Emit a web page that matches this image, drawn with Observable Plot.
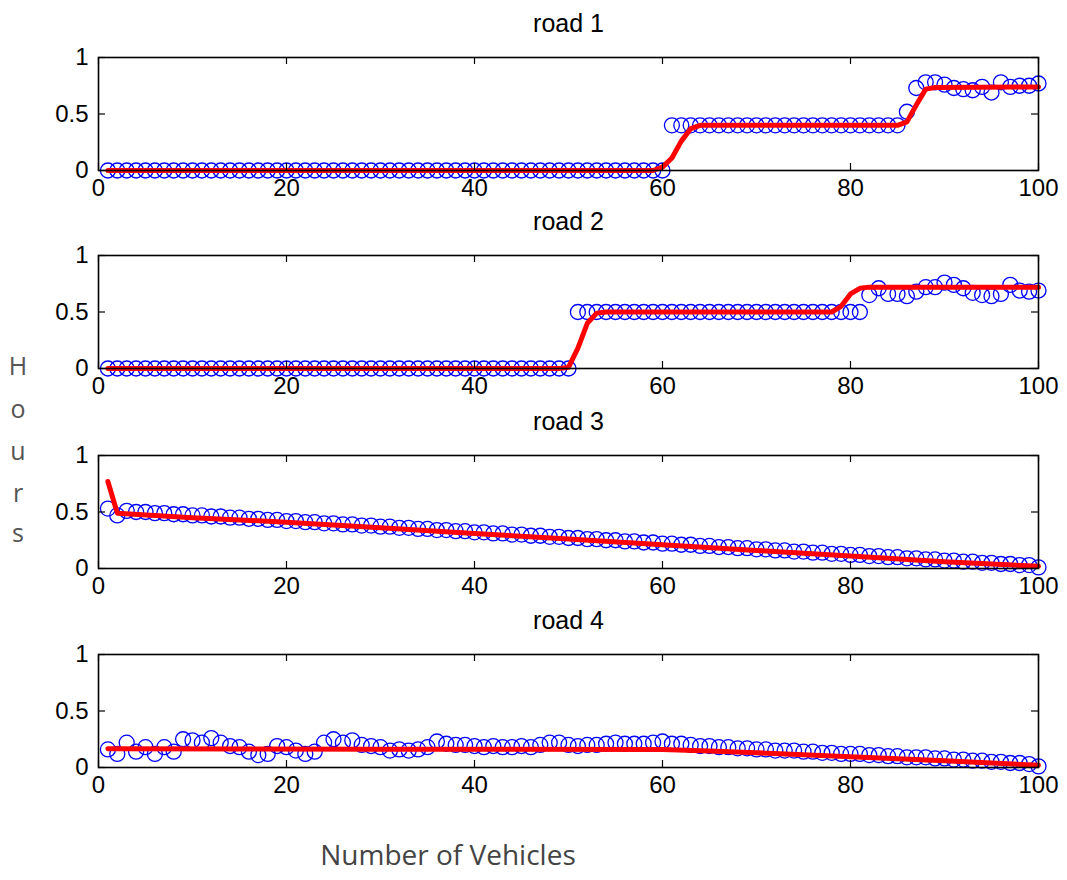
<!DOCTYPE html>
<html>
<head>
<meta charset="utf-8">
<script src="https://cdn.jsdelivr.net/npm/d3@7"></script>
<script src="https://cdn.jsdelivr.net/npm/@observablehq/plot@0.6"></script>
<style>
  html, body { margin: 0; padding: 0; background: #fff; }
  #chart { position: relative; width: 1067px; height: 880px; background: #fff; overflow: hidden; }
  .panel { position: absolute; left: 0; }
  .ylab { position: absolute; left: 4px; width: 28px; text-align: center; font-family: "Open Sans", sans-serif; font-size: 25px; color: #555; line-height: 1; }
  #xlabel { position: absolute; left: 198px; width: 500px; top: 838px; text-align: center; font-family: "Open Sans", sans-serif; font-size: 28px; color: #444; line-height: 1.2; }
</style>
</head>
<body>
<div id="chart"></div>
<script>
// ---- data ----
const titles = ["road 1", "road 2", "road 3", "road 4"];
const xTicks = [0, 20, 40, 60, 80, 100];
const yTicks = [0, 0.5, 1];
const vehicles = d3.range(1, 101);

const road1 = [
  0,0,0,0,0,0,0,0,0,0,
  0,0,0,0,0,0,0,0,0,0,
  0,0,0,0,0,0,0,0,0,0,
  0,0,0,0,0,0,0,0,0,0,
  0,0,0,0,0,0,0,0,0,0,
  0,0,0,0,0,0,0,0,0,0,
  0.40,0.40,0.40,0.40,0.40,0.40,0.40,0.40,0.40,0.40,
  0.40,0.40,0.40,0.40,0.40,0.40,0.40,0.40,0.40,0.40,
  0.40,0.40,0.40,0.40,0.40,0.52,0.73,0.78,0.78,0.76,
  0.73,0.72,0.71,0.74,0.69,0.78,0.74,0.75,0.75,0.77
];
const road2 = [
  0,0,0,0,0,0,0,0,0,0,
  0,0,0,0,0,0,0,0,0,0,
  0,0,0,0,0,0,0,0,0,0,
  0,0,0,0,0,0,0,0,0,0,
  0,0,0,0,0,0,0,0,0,0,
  0.50,0.50,0.50,0.50,0.50,0.50,0.50,0.50,0.50,0.50,
  0.50,0.50,0.50,0.50,0.50,0.50,0.50,0.50,0.50,0.50,
  0.50,0.50,0.50,0.50,0.50,0.50,0.50,0.50,0.50,0.50,
  0.50,0.65,0.71,0.66,0.66,0.64,0.68,0.72,0.72,0.76,
  0.74,0.71,0.67,0.65,0.64,0.66,0.74,0.69,0.68,0.69
];
const road3 = [
  0.53,0.47,0.51,0.50,0.50,0.49,0.49,0.48,0.48,0.47,
  0.47,0.46,0.46,0.45,0.45,0.44,0.44,0.43,0.43,0.42,
  0.42,0.41,0.41,0.40,0.40,0.39,0.39,0.38,0.38,0.37,
  0.37,0.36,0.36,0.35,0.35,0.34,0.34,0.33,0.33,0.32,
  0.32,0.31,0.31,0.30,0.30,0.29,0.29,0.28,0.28,0.27,
  0.27,0.26,0.26,0.25,0.25,0.24,0.24,0.23,0.23,0.22,
  0.22,0.21,0.21,0.20,0.20,0.19,0.19,0.18,0.18,0.17,
  0.17,0.16,0.16,0.15,0.15,0.14,0.14,0.13,0.13,0.12,
  0.12,0.11,0.11,0.10,0.10,0.09,0.09,0.08,0.08,0.07,
  0.07,0.06,0.06,0.05,0.05,0.04,0.04,0.03,0.03,0.01
];
const road4 = [
  0.16,0.12,0.22,0.14,0.18,0.12,0.18,0.14,0.25,0.24,
  0.22,0.26,0.22,0.19,0.18,0.14,0.11,0.12,0.19,0.18,
  0.15,0.12,0.14,0.22,0.25,0.22,0.24,0.20,0.19,0.18,
  0.15,0.16,0.15,0.16,0.18,0.23,0.21,0.20,0.20,0.19,
  0.18,0.19,0.18,0.18,0.19,0.18,0.20,0.22,0.22,0.20,
  0.19,0.20,0.20,0.21,0.22,0.21,0.21,0.21,0.22,0.23,
  0.21,0.21,0.20,0.19,0.19,0.18,0.18,0.17,0.17,0.16,
  0.16,0.15,0.15,0.15,0.14,0.14,0.13,0.13,0.12,0.12,
  0.12,0.11,0.11,0.10,0.10,0.09,0.09,0.09,0.08,0.08,
  0.07,0.07,0.06,0.06,0.05,0.05,0.04,0.04,0.03,0.01
];

// fitted (red) curves: x and y key points
const fit1X = [1, 59, 60, 61, 62, 63, 64, 85, 86, 87, 88, 89, 100];
const fit1Y = [0, 0, 0.03, 0.11, 0.26, 0.37, 0.40, 0.40, 0.43, 0.58, 0.72, 0.735, 0.74];
const fit2X = [1, 49, 50, 51, 52, 53, 54, 78, 79, 80, 81, 82, 100];
const fit2Y = [0, 0, 0.01, 0.18, 0.40, 0.49, 0.50, 0.50, 0.55, 0.66, 0.71, 0.72, 0.72];
const fit3X = [1, 2, 10, 20, 30, 40, 50, 60, 70, 80, 90, 100];
const fit3Y = [0.77, 0.49, 0.45, 0.41, 0.36, 0.31, 0.26, 0.21, 0.16, 0.11, 0.06, 0.02];
const fit4X = [1, 30, 60, 65, 70, 80, 90, 100];
const fit4Y = [0.165, 0.162, 0.16, 0.145, 0.13, 0.095, 0.06, 0.02];

const series = [road1, road2, road3, road4];
const fitsX = [fit1X, fit2X, fit3X, fit4X];
const fitsY = [fit1Y, fit2Y, fit3Y, fit4Y];

// ---- layout ----
const W = 1067, H = 200;
const mL = 98, mR = 29, mT = 55, mB = 32;
const frameW = W - mL - mR, frameH = H - mT - mB;
const tickLen = 7;
const panelTops = [2, 200, 400, 599];

const chart = document.getElementById("chart");

titles.forEach((title, k) => {
  const pts = vehicles.map((v, i) => ({x: v, y: series[k][i]}));
  const fit = fitsX[k].map((v, i) => ({x: v, y: fitsY[k][i]}));
  const svg = Plot.plot({
    width: W, height: H,
    marginLeft: mL, marginRight: mR, marginTop: mT, marginBottom: mB,
    x: {domain: [0, 100], label: null},
    y: {domain: [0, 1], label: null},
    style: {fontFamily: "'Liberation Sans', Arial, sans-serif", fontSize: "24px", color: "#000", background: "transparent", overflow: "visible"},
    marks: [
      Plot.dot(pts, {x: "x", y: "y", r: 7.5, stroke: "#0000ff", strokeWidth: 1.3, fill: "none"}),
      Plot.line(fit, {x: "x", y: "y", stroke: "#ff0000", strokeWidth: 5, strokeLinejoin: "round"}),
      Plot.frame({stroke: "#000", strokeWidth: 1.6}),
      Plot.tickX(xTicks, {x: d => d, insetTop: frameH - tickLen, stroke: "#000", strokeWidth: 1.2}),
      Plot.tickX(xTicks, {x: d => d, insetBottom: frameH - tickLen, stroke: "#000", strokeWidth: 1.2}),
      Plot.tickY(yTicks, {y: d => d, insetRight: frameW - tickLen, stroke: "#000", strokeWidth: 1.2}),
      Plot.tickY(yTicks, {y: d => d, insetLeft: frameW - tickLen, stroke: "#000", strokeWidth: 1.2}),
      Plot.axisX(xTicks, {anchor: "bottom", tickSize: 0, tickPadding: 8, label: null, fontSize: 24}),
      Plot.axisY(yTicks, {anchor: "left", tickSize: 0, tickPadding: 10, label: null, fontSize: 24, tickFormat: d => String(d)}),
      Plot.text([title], {frameAnchor: "top", lineAnchor: "middle", dy: -34, fontSize: 25, fill: "#000"})
    ]
  });
  svg.classList.add("panel");
  svg.style.top = panelTops[k] + "px";
  chart.appendChild(svg);
});

// y label "Hours" written letter by letter
const yLetters = ["H", "o", "u", "r", "s"];
const yLetterTops = [353, 396, 438, 480, 520];
yLetters.forEach((ch, i) => {
  const d = document.createElement("div");
  d.className = "ylab";
  d.style.top = yLetterTops[i] + "px";
  d.textContent = ch;
  chart.appendChild(d);
});

const xl = document.createElement("div");
xl.id = "xlabel";
xl.textContent = "Number of Vehicles";
chart.appendChild(xl);
</script>
</body>
</html>
